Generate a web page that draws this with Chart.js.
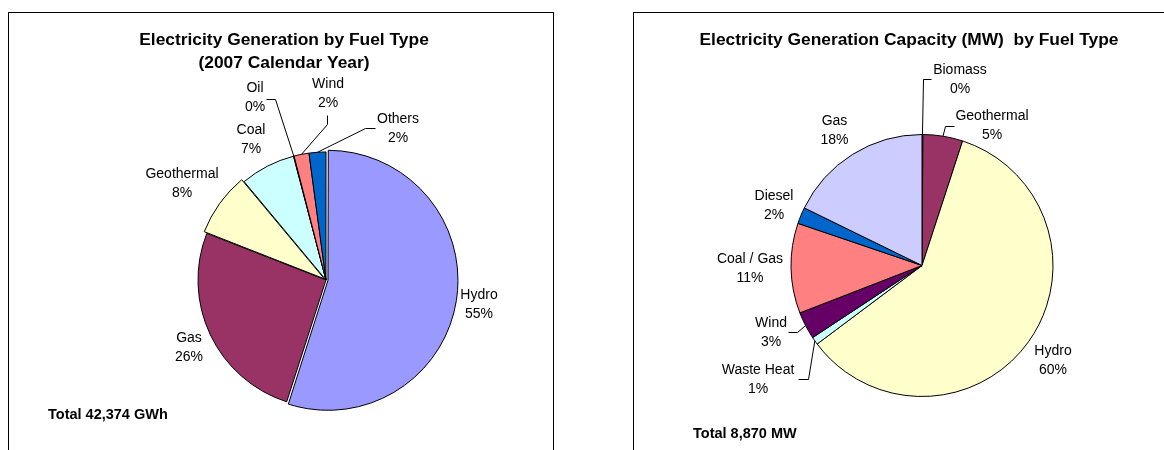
<!DOCTYPE html>
<html>
<head>
<meta charset="utf-8">
<script src="https://cdn.jsdelivr.net/npm/chart.js@4"></script>
<style>
  html, body { margin: 0; padding: 0; background: #fff; width: 1164px; height: 450px; overflow: hidden; }
  .box { position: absolute; border: 1px solid #000; border-bottom: none; }
  #box1 { left: 8px; top: 12px; width: 544px; height: 460px; }
  #box2 { left: 633px; top: 12px; width: 560px; height: 460px; }
  canvas { position: absolute; top: 0; }
</style>
</head>
<body>
<div class="box" id="box1"></div>
<div class="box" id="box2"></div>
<canvas id="gen" width="580" height="450" style="left:0"></canvas>
<canvas id="cap" width="564" height="450" style="left:600px"></canvas>
<script>
// generation 2007 (GWh)
const genLabels = ['Hydro', 'Gas', 'Geothermal', 'Coal', 'Oil', 'Wind', 'Others'];
const genValues = [23294, 11000, 3400, 2950, 30, 800, 900];
const genColors = ['#9999FF', '#993366', '#FFFFCC', '#CCFFFF', '#660066', '#FF8080', '#0066CC'];

// installed capacity (MW)
const capLabels = ['Biomass', 'Geothermal', 'Hydro', 'Waste Heat', 'Wind', 'Coal / Gas', 'Diesel', 'Gas'];
const capValues = [10, 435, 5300, 85, 300, 985, 180, 1575];
const capColors = ['#000000', '#993366', '#FFFFCC', '#CCFFFF', '#660066', '#FF8080', '#0066CC', '#CCCCFF'];

const FONT = '"Liberation Sans", Arial, sans-serif';

// draws the "Name / nn%" labels, leader lines, titles and total
const pieLabels = {
  id: 'pieLabels',
  afterDatasetsDraw(chart, args, opts) {
    const ctx = chart.ctx;
    const arcs = chart.getDatasetMeta(0).data;
    const values = chart.data.datasets[0].data;
    const total = values.reduce((a, b) => a + b, 0);
    const cx = arcs[0].x, cy = arcs[0].y;
    ctx.save();
    ctx.fillStyle = '#000';
    ctx.strokeStyle = '#000';
    ctx.lineWidth = 1;
    ctx.textAlign = 'center';
    ctx.textBaseline = 'middle';
    ctx.font = '14px ' + FONT;
    chart.data.labels.forEach((name, i) => {
      const [dx, dy] = opts.positions[i];
      const lx = cx + dx, ly = cy + dy;
      const pct = Math.round(values[i] / total * 100) + '%';
      ctx.fillText(name, lx, ly - 9.5);
      ctx.fillText(pct, lx, ly + 9.5);
      const lead = opts.leaders[i];
      if (lead) {
        const a = arcs[i];
        const mid = (a.startAngle + a.endAngle) / 2;
        ctx.beginPath();
        ctx.moveTo(Math.round(lx + lead[0][0]) + 0.5, Math.round(ly + lead[0][1]) + 0.5);
        ctx.lineTo(Math.round(lx + lead[1][0]) + 0.5, Math.round(ly + lead[1][1]) + 0.5);
        ctx.lineTo(a.x + Math.cos(mid) * a.outerRadius, a.y + Math.sin(mid) * a.outerRadius);
        ctx.stroke();
      }
    });
    ctx.font = 'bold 17.4px ' + FONT;
    opts.title.forEach((t, k) => ctx.fillText(t, opts.titleX, opts.titleY + k * 23));
    ctx.font = 'bold 14.5px ' + FONT;
    ctx.textAlign = 'left';
    ctx.fillText(opts.total, opts.totalX, opts.totalY);
    ctx.restore();
  }
};

function makePie(id, labels, values, colors, offsets, center, radius, labelOpts) {
  const canvas = document.getElementById(id);
  const h = radius + 10;
  return new Chart(canvas, {
    type: 'pie',
    data: {
      labels: labels,
      datasets: [{
        data: values,
        backgroundColor: colors,
        borderColor: '#000',
        borderWidth: 1,
        offset: offsets
      }]
    },
    options: {
      responsive: false,
      animation: false,
      radius: radius,
      layout: {
        padding: {
          left: center[0] - h,
          right: canvas.width - center[0] - h,
          top: center[1] - h,
          bottom: canvas.height - center[1] - h
        }
      },
      plugins: {
        legend: { display: false },
        tooltip: { enabled: false },
        pieLabels: labelOpts
      }
    },
    plugins: [pieLabels]
  });
}

makePie('gen', genLabels, genValues, genColors, [8, 0, 8, 0, 0, 0, 0], [326, 280], 128, {
  positions: [[153, 25], [-137, 68], [-144, -96.5], [-75, -140], [-71, -182], [2, -186.5], [72, -151]],
  leaders: [null, null, null, null, [[11, 1], [20, 1]], [[-1, 21.5], [-1, 30]], [[-23, -1], [-33, -1]]],
  title: ['Electricity Generation by Fuel Type', '(2007 Calendar Year)'],
  titleX: 284, titleY: 40,
  total: 'Total 42,374 GWh', totalX: 48, totalY: 415
});

makePie('cap', capLabels, capValues, capColors, 0, [322, 265.5], 131, {
  positions: [[38, -186], [70, -140], [131, 95], [-164, 114], [-151, 67.5], [-172, 3], [-148, -59.5], [-87.5, -135]],
  leaders: [[[-29, -0.5], [-37.5, -0.5]], [[-38, 0.5], [-47, 0.5]], null, [[40, -0.5], [50, -0.5]], [[17, -1], [26, -1]], null, null, null],
  title: ['Electricity Generation Capacity (MW)  by Fuel Type'],
  titleX: 309, titleY: 40,
  total: 'Total 8,870 MW', totalX: 93, totalY: 434
});
</script>
</body>
</html>
